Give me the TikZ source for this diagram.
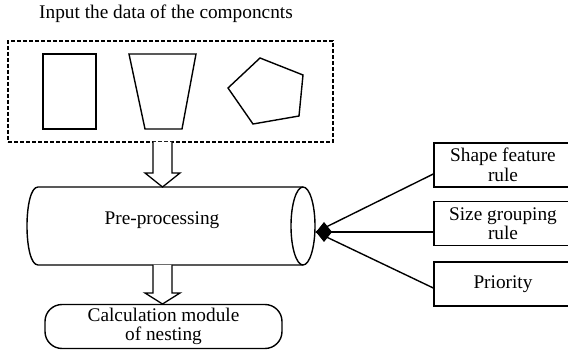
\documentclass[tikz,border=0pt]{standalone}
\usepackage{fontspec}
\setmainfont{Liberation Serif}
\usetikzlibrary{arrows.meta,calc}
\begin{document}
\begin{tikzpicture}[x=1pt,y=-1pt,
  every node/.style={font=\fontsize{19.3}{19.5}\selectfont, inner sep=0pt, align=center},
  shapeline/.style={line width=1.4pt, line join=miter},
  rulebox/.style={draw, line width=1.4pt, minimum width=138pt, minimum height=44pt},
  hollow/.style={draw, line width=1.3pt, fill=white, line join=miter},
  conn/.style={line width=1.4pt}]
\useasboundingbox (0,0) rectangle (568,352);
\clip (0,0) rectangle (568,352);
\fill[white] (0,0) rectangle (568,352);

% title and input box
\node (title) at (166,14) {Input the data of the componcnts};
\node[draw, line width=1.5pt, dash pattern=on 4pt off 2pt, minimum width=325pt, minimum height=101pt] (inbox) at (170.5,91.5) {};

% component shapes
\node[draw, line width=1.4pt, minimum width=53pt, minimum height=75pt] (rect) at (69.5,91.5) {};
\draw[shapeline] (129,54) -- (196,54) -- (182,129) -- (145,129) -- cycle;
\draw[shapeline] (260,58) -- (303,75) -- (299,116) -- (253,124) -- (228,88) -- cycle;

% hollow arrow 1
\draw[hollow] (153,142) -- (153,173) -- (145,173) -- (162.5,187) -- (180,173) -- (172,173) -- (172,142);

% cylinder
\draw[line width=1.4pt] (303,187) -- (38,187) .. controls (23.33,187) and (23.33,265) .. (38,265) -- (303,265);
\draw[line width=1.4pt] (303,226) ellipse [x radius=12, y radius=39];
\node (pre) at (162,220) {Pre-processing};

% hollow arrow 2
\draw[hollow] (153,265) -- (153,293) -- (145,293) -- (162.5,304) -- (180,293) -- (172,293) -- (172,265);

% calculation module
\node[draw, line width=1.4pt, rounded corners=17pt, minimum width=237pt, minimum height=44pt, font=\fontsize{19.3}{18.5}\selectfont] (calc) at (163.5,326.5) {Calculation module\\of nesting};

% rule boxes
\node[rulebox] (sf) at (503,165) {Shape feature\\rule};
\node[rulebox] (sg) at (503,223.5) {Size grouping\\rule};
\node[rulebox] (pr) at (503,284) {Priority};

\coordinate (tip) at (316,232);
\draw[conn] ($(sf.west)+(0,9)$) -- (tip);
\draw[conn] ($(pr.west)+(0,4)$) -- (tip);
\draw[conn, -{Diamond[length=16pt,width=20pt]}] ($(sg.west)+(0,8.5)$) -- (tip);
\end{tikzpicture}
\end{document}
